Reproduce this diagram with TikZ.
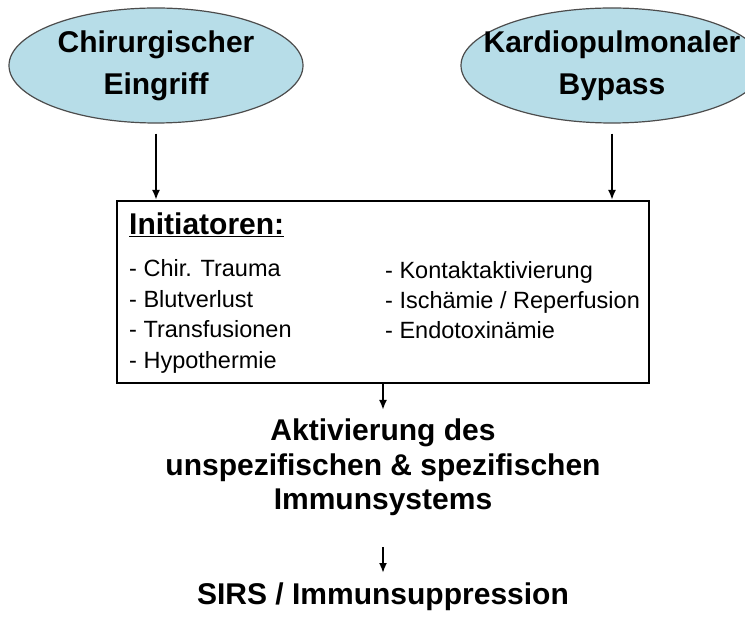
\documentclass[tikz,border=0pt]{standalone}
\usepackage{fontspec}
\setmainfont{Liberation Sans}
\usepackage{tikz}
\usetikzlibrary{arrows.meta,shapes.geometric}

\definecolor{ursblau}{RGB}{183,221,232}
\tikzset{
  ursache/.style={ellipse,draw=black!70,line width=1.2pt,fill=ursblau,
    minimum height=115pt,inner sep=0pt,align=center,
    font=\fontsize{30}{42}\selectfont\bfseries},
  pfeil/.style={line width=2pt,-{Latex[length=10pt,width=8pt]}},
  punkt/.style={anchor=base west,inner sep=0pt,font=\fontsize{23.5}{28}\selectfont},
  folge/.style={inner sep=0pt,align=center,font=\fontsize{30}{34.5}\selectfont\bfseries}
}

\begin{document}
\begin{tikzpicture}[x=1pt,y=-1pt]
\useasboundingbox (0,0) rectangle (745,617);
% Ursachen
\node[ursache,minimum width=294pt] (eingriff) at (156,65.5) {Chirurgischer\\Eingriff};
\node[ursache,minimum width=302pt,inner xsep=-22pt] (bypass) at (612,65.5) {Kardiopulmonaler\\Bypass};
% Kasten mit den Initiatoren
\node[draw,line width=2pt,minimum width=532pt,minimum height=182pt,inner sep=0pt]
  (initiatoren) at (383,292) {};
\node[anchor=base west,inner sep=0pt,font=\fontsize{30}{36}\selectfont\bfseries]
  (titel) at (129,235) {\underline{Initiatoren:}};
\foreach \t [count=\i] in {Chir. Trauma,Blutverlust,Transfusionen,Hypothermie}
  \node[punkt] (links\i) at (129,{246.5+30.5*\i}) {- \t};
\foreach \t [count=\i] in {Kontaktaktivierung,Ischämie / Reperfusion,Endotoxinämie}
  \node[punkt] (rechts\i) at (385,{249+30*\i}) {- \t};
% Folgen
\node[folge,anchor=north] (aktivierung) at (383,419)
  {Aktivierung des\\unspezifischen \& spezifischen\\Immunsystems};
\node[folge,anchor=base] (sirs) at (383,605) {SIRS / Immunsuppression};
% Pfeile
\draw[pfeil] ([yshift=-10pt]eingriff.south) -- (eingriff.south |- initiatoren.north);
\draw[pfeil] ([yshift=-10pt]bypass.south) -- (bypass.south |- initiatoren.north);
\draw[pfeil] (initiatoren.south) -- ([yshift=9pt]aktivierung.north);
\draw[pfeil] ([yshift=-31pt]aktivierung.south) -- ([yshift=10pt]sirs.north);
\end{tikzpicture}
\end{document}
